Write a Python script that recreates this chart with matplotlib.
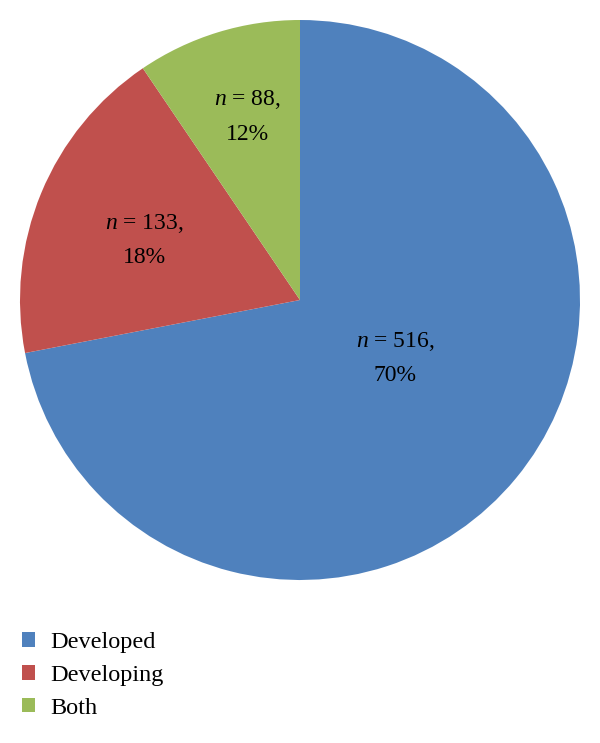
import numpy as np
import matplotlib
matplotlib.use('Agg')
import matplotlib.pyplot as plt
from matplotlib.patches import Patch

plt.rcParams['font.family'] = ['Liberation Serif', 'DejaVu Serif']
plt.rcParams['mathtext.fontset'] = 'custom'
plt.rcParams['mathtext.rm'] = 'Liberation Serif'
plt.rcParams['mathtext.it'] = 'Liberation Serif:italic'

categories = ['Developed', 'Developing', 'Both']
# counts printed on the slices
label_counts = [516, 133, 88]
percents = ['70%', '18%', '12%']
# slice sizes as drawn in the original figure (Both slice is narrower than its label)
slice_values = [516, 133, 68]
colors = ['#4F81BD', '#C0504D', '#9BBB59']

fig = plt.figure(figsize=(6, 7.43), dpi=100)
ax = fig.add_axes([20 / 600, 163 / 743, 560 / 600, 560 / 743])

wedges, _ = ax.pie(slice_values, colors=colors, startangle=90, counterclock=False,
                   radius=1.0, wedgeprops=dict(linewidth=0))
ax.set_xlim(-1, 1)
ax.set_ylim(-1, 1)
ax.set_aspect('equal')

# label centres in pie units
label_xy = [(0.339, -0.207), (-0.554, 0.214), (-0.189, 0.654)]
for (x, y), n, p in zip(label_xy, label_counts, percents):
    ax.text(x, y, f'$n$ = {n},\n{p}',
            ha='center', va='center', fontsize=17, linespacing=1.8)

handles = [Patch(facecolor=c, edgecolor='none') for c in colors]
fig.legend(handles, categories, loc='upper left',
           bbox_to_anchor=(0 / 600, 1 - 610 / 743), frameon=False,
           fontsize=17.5, handlelength=0.55, handleheight=0.55,
           handletextpad=0.62, labelspacing=0.49)

fig.savefig('out.png', dpi=100)
